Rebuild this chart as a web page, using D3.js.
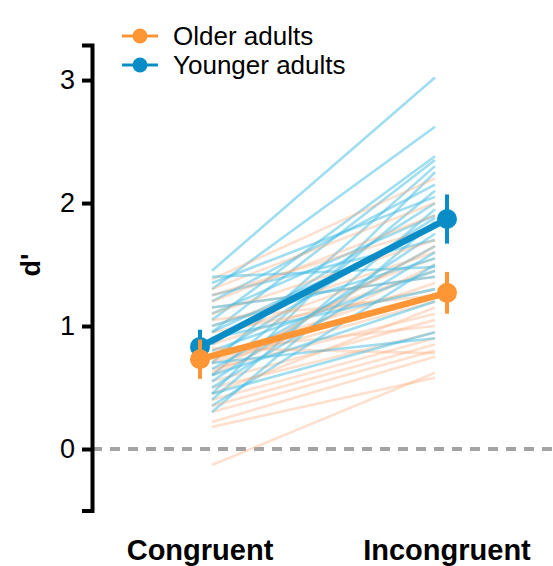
<!DOCTYPE html>
<html><head><meta charset="utf-8">
<script src="https://cdn.jsdelivr.net/npm/d3@7"></script>
<style>body{margin:0;background:#fff}svg{display:block}text{font-family:"Liberation Sans",Arial,sans-serif}</style>
</head><body><svg id="c" width="553" height="566"></svg>
<script>
const categories = ["Congruent", "Incongruent"];
const groups = ["Older adults", "Younger adults"];
const yTicks = [0, 1, 2, 3];
// individual participants: [congruent, incongruent]
const olderCong = [-0.13,0.18,0.22,0.30,0.40,0.50,0.55,0.60,0.65,0.70,0.75,0.80,0.85,0.90,0.95,1.00,1.05,1.10,1.15,1.25,1.30,1.38,0.45,0.35,0.62,0.82,1.20,0.72];
const olderIncong = [0.62,0.58,0.75,0.80,0.90,0.95,1.05,1.50,1.10,1.20,1.35,1.00,1.45,1.55,1.30,1.60,1.25,1.70,1.40,1.80,2.00,2.20,1.15,0.85,1.65,0.78,1.90,1.25];
const youngerCong = [1.45,1.30,1.05,0.95,0.70,0.45,1.20,0.60,1.35,0.85,0.40,1.10,0.75,0.30,0.95,0.55,1.25,0.65,0.50,1.00,0.35,0.80,1.15,0.90,0.60,1.40,0.45,0.70];
const youngerIncong = [3.02,2.62,2.38,2.35,2.30,2.25,2.15,2.10,2.05,2.00,1.95,1.90,1.88,1.85,1.80,1.75,1.70,1.65,1.60,1.55,1.50,1.45,1.40,1.30,1.20,1.48,0.95,0.90];
const olderMean = [0.73, 1.27];
const olderErr = [0.16, 0.17];
const youngerMean = [0.83, 1.87];
const youngerErr = [0.14, 0.20];

const svg = d3.select("#c");
const y = d3.scaleLinear().domain([-0.5, 3.285]).range([510.5, 45]);
const x = d3.scalePoint().domain(categories).range([200, 447]);
const inset = 12;
const colO = "#FF9636", colY = "#0A8DC6";
const lightO = "rgba(255,170,120,0.36)", lightY = "rgba(70,190,228,0.52)";

// zero reference line
svg.append("line").attr("x1", 92).attr("x2", 553).attr("y1", y(0)).attr("y2", y(0))
  .attr("stroke", "#a3a3a3").attr("stroke-width", 4).attr("stroke-dasharray", "10,8");

// individual lines (interleaved)
const xs = [x(categories[0]) + inset, x(categories[1]) - inset];
const g = svg.append("g");
for (let i = 0; i < olderCong.length; i++) {
  g.append("line").attr("x1", xs[0]).attr("x2", xs[1])
    .attr("y1", y(olderCong[i])).attr("y2", y(olderIncong[i]))
    .attr("stroke", lightO).attr("stroke-width", 2.6);
  g.append("line").attr("x1", xs[0]).attr("x2", xs[1])
    .attr("y1", y(youngerCong[i])).attr("y2", y(youngerIncong[i]))
    .attr("stroke", lightY).attr("stroke-width", 2.6);
}

// means
function drawMean(m, e, col) {
  const gg = svg.append("g");
  gg.append("path").attr("d", d3.line()(categories.map((c, i) => [x(c), y(m[i])])))
    .attr("stroke", col).attr("stroke-width", 6.5).attr("fill", "none");
  categories.forEach((c, i) => {
    gg.append("line").attr("x1", x(c)).attr("x2", x(c))
      .attr("y1", y(m[i] - e[i])).attr("y2", y(m[i] + e[i]))
      .attr("stroke", col).attr("stroke-width", 4);
    gg.append("circle").attr("cx", x(c)).attr("cy", y(m[i])).attr("r", 10).attr("fill", col);
  });
}
drawMean(youngerMean, youngerErr, colY);
drawMean(olderMean, olderErr, colO);

// axis
const ax = svg.append("g").attr("transform", "translate(92,0)")
  .call(d3.axisLeft(y).tickValues(yTicks).tickFormat(d3.format("d")).tickSize(10).tickSizeOuter(10).tickPadding(7));
ax.select(".domain").attr("stroke", "#000").attr("stroke-width", 4);
ax.selectAll(".tick line").attr("stroke", "#000").attr("stroke-width", 4);
ax.selectAll(".tick text").attr("font-size", 27).attr("fill", "#000")
  .attr("font-family", "'Liberation Sans', Arial, sans-serif");

// y label
svg.append("text").attr("transform", "translate(40,265) rotate(-90)")
  .attr("text-anchor", "middle").attr("font-size", 27).attr("font-weight", "bold").text("d'");

// category labels
categories.forEach(c => {
  svg.append("text").attr("x", x(c)).attr("y", 560).attr("text-anchor", "middle")
    .attr("font-size", 29).attr("font-weight", "bold").text(c);
});

// legend
const legCols = [colO, colY];
groups.forEach((name, i) => {
  const ly = 36 + i * 29;
  svg.append("line").attr("x1", 122).attr("x2", 158).attr("y1", ly).attr("y2", ly)
    .attr("stroke", legCols[i]).attr("stroke-width", 3);
  svg.append("circle").attr("cx", 140).attr("cy", ly).attr("r", 7.5).attr("fill", legCols[i]);
  svg.append("text").attr("x", 173).attr("y", ly + 9).attr("font-size", 26).text(name);
});
</script></body></html>
